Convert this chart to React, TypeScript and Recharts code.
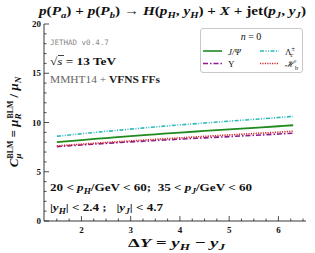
import React from "react";
import { LineChart, Line, XAxis, YAxis, Legend } from "recharts";

// rapidity interval ΔY
const deltaY = [1.5, 2, 2.5, 3, 3.5, 4, 4.5, 5, 5.5, 6, 6.3];

// C_mu^BLM for each hadron species (n = 0)
const jpsi = [8.0, 8.22, 8.42, 8.62, 8.8, 8.98, 9.14, 9.3, 9.46, 9.62, 9.72];
const lambdaC = [8.6, 8.86, 9.1, 9.33, 9.55, 9.76, 9.95, 10.14, 10.32, 10.5, 10.62];
const upsilon = [7.55, 7.72, 7.88, 8.03, 8.17, 8.31, 8.44, 8.57, 8.7, 8.83, 8.92];
const hb = [7.62, 7.8, 7.97, 8.13, 8.29, 8.44, 8.59, 8.74, 8.88, 9.02, 9.12];

const xTicks = [1.5, 1.75, 2, 2.25, 2.5, 2.75, 3, 3.25, 3.5, 3.75, 4, 4.25, 4.5, 4.75, 5, 5.25, 5.5, 5.75, 6, 6.25, 6.5];
const yTicks = [0, 1, 2, 3, 4, 5, 6, 7, 8, 9, 10, 11, 12, 13, 14, 15, 16, 17, 18, 19, 20];

const data = deltaY.map((x, i) => ({
  x,
  jpsi: jpsi[i],
  lambdaC: lambdaC[i],
  upsilon: upsilon[i],
  hb: hb[i],
}));

const SERIF = "'Liberation Serif', 'DejaVu Serif', serif";

type Seg = { t: string; v?: number; dx?: number; i?: boolean; b?: boolean; n?: boolean; sz?: number; fill?: string };

const Rich = ({ x, y, segs, fs, anchor = "start", transform, weight = "normal", fill = "#111", len }: any) => {
  let cur = 0;
  return (
    <text x={x} y={y} fontSize={fs} textAnchor={anchor} transform={transform} fontFamily={SERIF}
      fontWeight={weight} fill={fill} xmlSpace="preserve" textLength={len}
      lengthAdjust={len ? "spacingAndGlyphs" : undefined}>
      {segs.map((s: Seg, k: number) => {
        const v = s.v ?? 0;
        const dy = v - cur;
        cur = v;
        return (
          <tspan key={k} dy={dy || undefined} dx={s.dx} fontStyle={s.i ? "italic" : undefined}
            fontWeight={s.b ? "bold" : s.n ? "normal" : undefined} fontSize={s.sz ? fs * s.sz : undefined}
            fill={s.fill}>
            {s.t}
          </tspan>
        );
      })}
    </text>
  );
};

const XTick = ({ x, y, payload, side }: any) => {
  const major = Number.isInteger(payload.value);
  const len = major ? 5 : 2.5;
  const dir = side === "bottom" ? -1 : 1;
  return (
    <g>
      <line x1={x} x2={x} y1={y} y2={y + dir * len} stroke="#222" strokeWidth={0.8} />
      {side === "bottom" && major && (
        <text x={x} y={y + 11.5} textAnchor="middle" fontSize={9} fontWeight="bold" fontFamily={SERIF} fill="#111">
          {payload.value}
        </text>
      )}
    </g>
  );
};

const YTick = ({ x, y, payload, side }: any) => {
  const major = payload.value % 5 === 0;
  const len = major ? 5 : 2.5;
  const dir = side === "left" ? 1 : -1;
  return (
    <g>
      <line x1={x} x2={x + dir * len} y1={y} y2={y} stroke="#222" strokeWidth={0.8} />
      {side === "left" && major && (
        <text x={x - 3} y={y + 3} textAnchor="end" fontSize={9} fontWeight="bold" fontFamily={SERIF} fill="#111">
          {payload.value}
        </text>
      )}
    </g>
  );
};

const series = [
  { key: "jpsi", color: "#1f8a1f", dash: undefined, label: [{ t: "J/Ψ", i: true }] },
  { key: "lambdaC", color: "#2bb8b8", dash: "4 1.5 1 1.5 1 1.5", label: [{ t: "Λ" }, { t: "±", v: -4, sz: 0.7 }, { t: "c", v: 2.5, sz: 0.7, i: true, dx: -4.5 }] },
  { key: "upsilon", color: "#8e1a8e", dash: "5 2 1.5 2", label: [{ t: "Υ" }] },
  { key: "hb", color: "#d02a2a", dash: "1.2 1.2", label: [{ t: "ℋ", i: true }, { t: "b", v: 2.5, sz: 0.7 }] },
];

const LegendBox = () => (
  <div style={{
    width: 103, height: 45, border: "1px solid #c8c8c8", borderRadius: 3, background: "rgba(255,255,255,0.9)",
    boxSizing: "border-box",
  }}>
    <svg width={101} height={43} style={{ display: "block" }}>
      <Rich x={50} y={11} fs={10} anchor="middle" segs={[{ t: "n", i: true }, { t: " = 0" }]} />
      {series.map((s, i) => {
        const col = i % 2;
        const row = Math.floor(i / 2);
        const x0 = col === 0 ? 2 : 59;
        const yy = 22 + row * 12.5;
        return (
          <g key={s.key}>
            <line x1={x0} x2={x0 + 19} y1={yy} y2={yy} stroke={s.color} strokeWidth={1.6} strokeDasharray={s.dash} />
            <Rich x={x0 + 25} y={yy + 3.5} fs={9} segs={s.label} />
          </g>
        );
      })}
    </svg>
  </div>
);

export default function App() {
  return (
    <div style={{ position: "absolute", left: 0, top: 0, width: 315, height: 253, background: "#fff" }}>
      <LineChart width={315} height={253} data={data} margin={{ top: 24, right: 9, bottom: 0, left: 0 }}>
        <XAxis dataKey="x" type="number" domain={[1.24, 6.56]} ticks={xTicks} interval={0} height={32}
          allowDataOverflow tickSize={0} tickMargin={0} tickLine={false} axisLine={{ stroke: "#222", strokeWidth: 0.9 }}
          tick={<XTick side="bottom" />} />
        <XAxis xAxisId="top" orientation="top" dataKey="x" type="number" domain={[1.24, 6.56]} ticks={xTicks}
          interval={0} height={0} allowDataOverflow tickSize={0} tickMargin={0} tickLine={false}
          axisLine={{ stroke: "#222", strokeWidth: 0.9 }} tick={<XTick side="top" />} />
        <YAxis type="number" domain={[0, 20]} ticks={yTicks} interval={0} width={44} allowDataOverflow
          tickSize={0} tickMargin={0} tickLine={false} axisLine={{ stroke: "#222", strokeWidth: 0.9 }}
          tick={<YTick side="left" />} />
        <YAxis yAxisId="right" orientation="right" type="number" domain={[0, 20]} ticks={yTicks} interval={0}
          width={0} allowDataOverflow tickSize={0} tickMargin={0} tickLine={false}
          axisLine={{ stroke: "#222", strokeWidth: 0.9 }} tick={<YTick side="right" />} />
        {series.map((s) => (
          <Line key={s.key} dataKey={s.key} type="monotone" stroke={s.color} strokeWidth={s.key === "jpsi" ? 1.8 : 1.6}
            strokeDasharray={s.dash} dot={false} isAnimationActive={false} />
        ))}
        <Legend layout="horizontal" verticalAlign="middle" align="center" content={<LegendBox />}
          wrapperStyle={{ left: 200, top: 28, width: 103, height: 45 }} />
      </LineChart>
      <svg width={315} height={253} style={{ position: "absolute", left: 0, top: 0, pointerEvents: "none" }}>
        <Rich x={172.5} y={15} fs={12.5} anchor="middle" weight="bold" len={267} segs={[
          { t: "p", i: true }, { t: "(" }, { t: "P", i: true }, { t: "a", v: 2.5, sz: 0.7, i: true },
          { t: ") + " }, { t: "p", i: true }, { t: "(" }, { t: "P", i: true }, { t: "b", v: 2.5, sz: 0.7, i: true },
          { t: ") → " }, { t: "H", i: true }, { t: "(" }, { t: "p", i: true }, { t: "H", v: 2.5, sz: 0.7, i: true },
          { t: ", " }, { t: "y", i: true }, { t: "H", v: 2.5, sz: 0.7, i: true }, { t: ") + " }, { t: "X", i: true },
          { t: " + jet(" }, { t: "p", i: true }, { t: "J", v: 2.5, sz: 0.7, i: true }, { t: ", " }, { t: "y", i: true },
          { t: "J", v: 2.5, sz: 0.7, i: true }, { t: ")" },
        ]} />
        <text x={50} y={45} fontSize={7.5} fontFamily="'DejaVu Sans Mono', 'Liberation Mono', monospace" fill="#8a8a8a">
          JETHAD v0.4.7
        </text>
        <Rich x={50} y={65} fs={11} weight="bold" len={66} segs={[
          { t: "√" }, { t: "s", i: true, n: true }, { t: " = 13 " }, { t: "TeV" },
        ]} />
        <line x1={58} x2={64} y1={55.5} y2={55.5} stroke="#111" strokeWidth={0.8} />
        <Rich x={50} y={83} fs={10.5} len={110} segs={[
          { t: "MMHT14 + ", fill: "#666" }, { t: "VFNS FFs", b: true, fill: "#222" },
        ]} />
        <Rich x={50} y={191} fs={10.5} weight="bold" len={202} segs={[
          { t: "20 < " }, { t: "p", i: true }, { t: "H", v: 2.5, sz: 0.7, i: true }, { t: "/GeV < 60;  35 < " },
          { t: "p", i: true }, { t: "J", v: 2.5, sz: 0.7, i: true }, { t: "/GeV < 60" },
        ]} />
        <Rich x={50} y={211} fs={10.5} weight="bold" len={113} segs={[
          { t: "|" }, { t: "y", i: true }, { t: "H", v: 2.5, sz: 0.7, i: true }, { t: "| < 2.4 ;   |" },
          { t: "y", i: true }, { t: "J", v: 2.5, sz: 0.7, i: true }, { t: "| < 4.7" },
        ]} />
        <Rich x={176.5} y={247} fs={13} anchor="middle" weight="bold" len={97} segs={[
          { t: "Δ" }, { t: "Y", i: true }, { t: " = " }, { t: "y", i: true }, { t: "H", v: 3, sz: 0.7, i: true },
          { t: " − " }, { t: "y", i: true }, { t: "J", v: 3, sz: 0.7, i: true },
        ]} />
        <Rich x={0} y={0} fs={13} anchor="middle" weight="bold" transform="translate(18,122) rotate(-90)" segs={[
          { t: "C", i: true }, { t: "μ", v: 3, sz: 0.7, i: true }, { t: "BLM", v: -5, sz: 0.6, dx: -5 },
          { t: " = " }, { t: "μ", i: true }, { t: "R", v: 3, sz: 0.7, i: true }, { t: "BLM", v: -5, sz: 0.6, dx: -5 },
          { t: " / " }, { t: "μ", i: true }, { t: "N", v: 3, sz: 0.7, i: true },
        ]} />
      </svg>
    </div>
  );
}
